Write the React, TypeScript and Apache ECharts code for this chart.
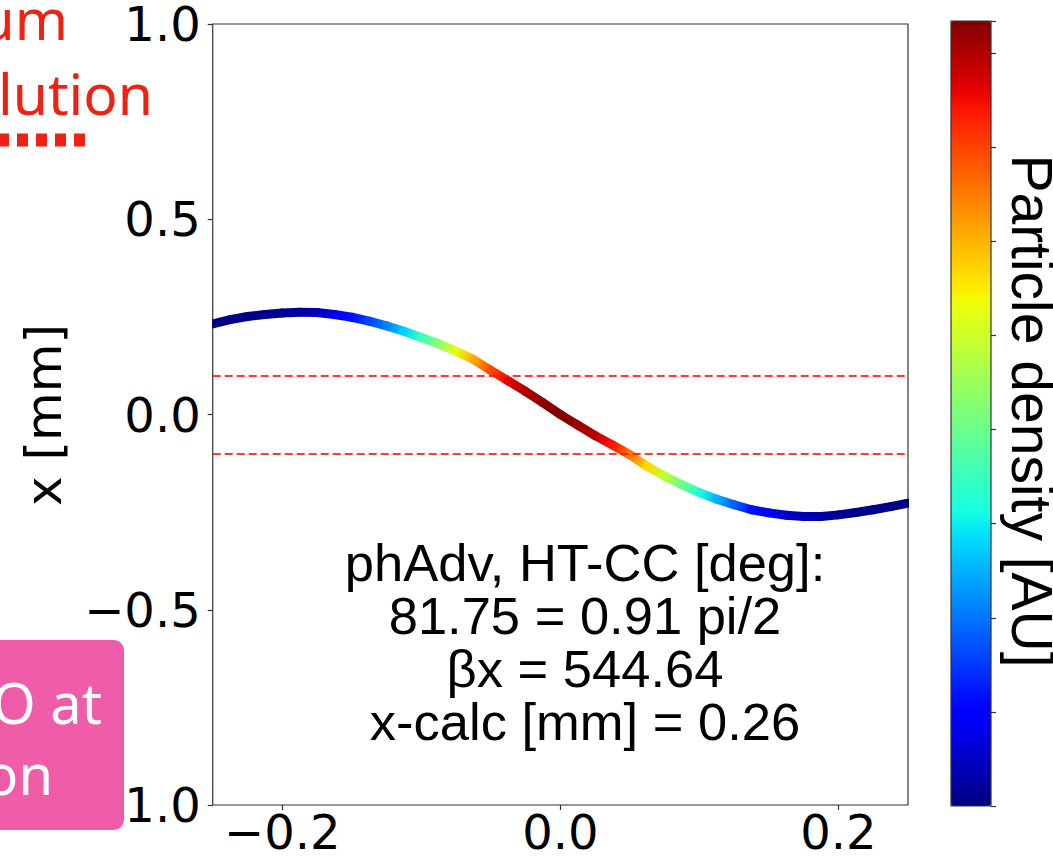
import React, { useEffect, useRef } from "react";
import * as echarts from "echarts";

// position along the plotted coordinate [mm]
const xValues = [
  -0.25, -0.2375, -0.225, -0.2125, -0.2, -0.1875, -0.175, -0.1625, -0.15, -0.1375,
  -0.125, -0.1125, -0.1, -0.0875, -0.075, -0.0625, -0.05, -0.0375, -0.025, -0.0125,
  0,
  0.0125, 0.025, 0.0375, 0.05, 0.0625, 0.075, 0.0875, 0.1, 0.1125, 0.125,
  0.1375, 0.15, 0.1625, 0.175, 0.1875, 0.2, 0.2125, 0.225, 0.2375, 0.25,
];
// x [mm]
const yValues = [
  0.232, 0.243, 0.251, 0.256, 0.26, 0.262, 0.261, 0.256, 0.249, 0.239,
  0.227, 0.213, 0.197, 0.181, 0.162, 0.141, 0.113, 0.086, 0.059, 0.03,
  0,
  -0.027, -0.054, -0.078, -0.103, -0.133, -0.158, -0.18, -0.2, -0.217, -0.231,
  -0.244, -0.252, -0.258, -0.261, -0.261, -0.257, -0.251, -0.244, -0.236, -0.227,
];
// particle density [AU], normalised
const densityValues = [
  0.004, 0.006, 0.009, 0.012, 0.017, 0.025, 0.05, 0.1, 0.14, 0.19,
  0.25, 0.33, 0.42, 0.52, 0.63, 0.73, 0.83, 0.91, 0.96, 0.99,
  1.0,
  0.98, 0.95, 0.89, 0.79, 0.68, 0.58, 0.48, 0.39, 0.3, 0.22,
  0.14, 0.1, 0.07, 0.045, 0.03, 0.02, 0.014, 0.01, 0.006, 0.004,
];
const thresholdLines = [0.1, -0.1];
const xTickValues = [-0.2, 0, 0.2];
const yTickInterval = 0.5;
const colorbarTickInterval = 1;
const colorbarMax = 8.34;
const annotationLines = [
  "phAdv, HT-CC [deg]:",
  "81.75 = 0.91 pi/2",
  "βx = 544.64",
  "x-calc [mm] = 0.26",
];
const yAxisTitle = "x [mm]";
const colorbarTitle = "Particle density [AU]";
const topLeftLines = ["um", "lution"];
const boxLines = ["O at", "on"];

// matplotlib "jet" colormap segment data
const JET_R: number[][] = [[0, 0], [0.35, 0], [0.66, 1], [0.89, 1], [1, 0.5]];
const JET_G: number[][] = [[0, 0], [0.125, 0], [0.375, 1], [0.64, 1], [0.91, 0], [1, 0]];
const JET_B: number[][] = [[0, 0.5], [0.11, 1], [0.34, 1], [0.65, 0], [1, 0]];

function seg(t: number, pts: number[][]): number {
  for (let i = 0; i < pts.length - 1; i++) {
    const [a, va] = pts[i];
    const [b, vb] = pts[i + 1];
    if (t >= a && t <= b) return va + ((t - a) / (b - a)) * (vb - va);
  }
  return pts[pts.length - 1][1];
}
function jet(t: number): string {
  const r = Math.round(seg(t, JET_R) * 255);
  const g = Math.round(seg(t, JET_G) * 255);
  const b = Math.round(seg(t, JET_B) * 255);
  return `rgb(${r},${g},${b})`;
}

const fmt = (v: number) => v.toFixed(1).replace("-", "\u2212");

export default function App() {
  const ref = useRef<HTMLDivElement>(null);
  useEffect(() => {
    if (!ref.current) return;
    const chart = echarts.init(ref.current, null, { renderer: "svg" });
    const data = xValues.map((x, i) => [x, yValues[i], densityValues[i]]);
    const jetStops = Array.from({ length: 65 }, (_, i) => jet(i / 64));
    const frame = "#333";
    const tickFont = "DejaVu Sans";
    const helv = "Liberation Sans";
    const annFont = 52.5;
    const annLine = 53;
    const annCenterY = 642;
    const annTop = annCenterY - ((annotationLines.length - 1) * annLine) / 2;

    chart.setOption({
      animation: false,
      backgroundColor: "#fff",
      grid: [
        {
          left: 212.7, top: 20.7, width: 695.3, height: 786,
          show: true, borderColor: frame, borderWidth: 1.2, backgroundColor: "transparent",
        },
        { left: 951, top: 21, width: 40, height: 785, show: false },
      ],
      xAxis: [
        {
          type: "value", gridIndex: 0, min: -0.25, max: 0.25, position: "bottom",
          axisLine: { show: false, onZero: false }, splitLine: { show: false },
          axisTick: { show: true, length: 5, lineStyle: { color: frame, width: 1.2 }, customValues: xTickValues },
          axisLabel: {
            customValues: xTickValues, formatter: fmt, fontFamily: tickFont, fontSize: 48,
            color: "#000", margin: 3,
          },
        },
        { type: "value", gridIndex: 1, show: false, min: 0, max: 1 },
      ],
      yAxis: [
        {
          type: "value", gridIndex: 0, min: -1, max: 1, interval: yTickInterval, position: "left",
          axisLine: { show: false, onZero: false }, splitLine: { show: false },
          axisTick: { show: true, length: 5, lineStyle: { color: frame, width: 1.2 } },
          axisLabel: { formatter: fmt, fontFamily: tickFont, fontSize: 48, color: "#000", margin: 12 },
        },
        {
          type: "value", gridIndex: 1, position: "right", min: 0, max: colorbarMax,
          interval: colorbarTickInterval,
          axisLine: { show: false, onZero: false }, splitLine: { show: false },
          axisTick: { show: true, length: 5, lineStyle: { color: frame, width: 1.2 } },
          axisLabel: { show: false },
        },
      ],
      visualMap: {
        type: "continuous", min: 0, max: 1, dimension: 2, seriesIndex: 0,
        inRange: { color: jetStops }, calculable: false, orient: "vertical",
        left: 951, top: 21, itemWidth: 40, itemHeight: 785, padding: 0,
        hoverLink: false,
      },
      series: [
        {
          type: "custom", coordinateSystem: "cartesian2d", xAxisIndex: 0, yAxisIndex: 0,
          clip: true, silent: true,
          data,
          renderItem: (params: any, api: any) => {
            const i = params.dataIndexInside;
            if (i >= params.dataInsideLength - 1) return null;
            const p0 = api.coord([api.value(0, i), api.value(1, i)]);
            const p1 = api.coord([api.value(0, i + 1), api.value(1, i + 1)]);
            const c0 = api.visual("color", i);
            const c1 = api.visual("color", i + 1);
            return {
              type: "line",
              shape: { x1: p0[0], y1: p0[1], x2: p1[0], y2: p1[1] },
              style: {
                stroke: new echarts.graphic.LinearGradient(
                  p0[0], p0[1], p1[0], p1[1],
                  [{ offset: 0, color: c0 }, { offset: 1, color: c1 }],
                  true
                ),
                lineWidth: 9,
                lineCap: "round",
              },
            };
          },
          markLine: {
            silent: true, symbol: "none", label: { show: false },
            lineStyle: { type: [8, 4], color: "rgba(255,20,20,0.85)", width: 2 },
            data: thresholdLines.map((v) => ({ yAxis: v })),
          },
        },
      ],
      graphic: [
        {
          type: "rect", z: 50, silent: true,
          shape: { x: 951, y: 21, width: 40, height: 785 },
          style: { fill: "none", stroke: frame, lineWidth: 1.2 },
        },
        {
          type: "text", z: 50, x: 44, y: 415, rotation: Math.PI / 2,
          style: { text: yAxisTitle, fontFamily: tickFont, fontSize: 50, fill: "#000", align: "center", verticalAlign: "middle" },
        },
        {
          type: "text", z: 50, x: 1032, y: 411, rotation: -Math.PI / 2,
          style: { text: colorbarTitle, fontFamily: helv, fontSize: 57, fill: "#000", align: "center", verticalAlign: "middle" },
        },
        ...annotationLines.map((line, k) => ({
          type: "text", z: 50, x: 585, y: annTop + k * annLine,
          style: {
            text: line, fontFamily: helv, fontSize: annFont, lineHeight: annLine,
            fill: "#000", align: "center", verticalAlign: "middle",
          },
        })),
        {
          type: "text", z: 50, x: 68, y: 18,
          style: { text: topLeftLines[0], fontFamily: "Noto Sans", fontSize: 57, fill: "#ec2314", align: "right", verticalAlign: "middle" },
        },
        {
          type: "text", z: 50, x: 153, y: 93,
          style: { text: topLeftLines[1], fontFamily: "Noto Sans", fontSize: 57, fill: "#ec2314", align: "right", verticalAlign: "middle" },
        },
        {
          type: "line", z: 50,
          shape: { x1: 85, y1: 140, x2: -10, y2: 140 },
          style: { stroke: "#ec2314", lineWidth: 13, lineDash: [11, 8] },
        },
        {
          type: "rect", z: 60,
          shape: { x: -20, y: 640, width: 144, height: 190, r: 10 },
          style: { fill: "#ef5da8" },
        },
        {
          type: "text", z: 61, x: 102, y: 702,
          style: { text: boxLines[0], fontFamily: "Noto Sans", fontSize: 56, fill: "#fff", align: "right", verticalAlign: "middle" },
        },
        {
          type: "text", z: 61, x: 53, y: 773,
          style: { text: boxLines[1], fontFamily: "Noto Sans", fontSize: 56, fill: "#fff", align: "right", verticalAlign: "middle" },
        },
      ],
    });
    return () => chart.dispose();
  }, []);
  return (
    <div
      ref={ref}
      style={{ position: "fixed", left: 0, top: 0, width: 1053, height: 856 }}
    />
  );
}
